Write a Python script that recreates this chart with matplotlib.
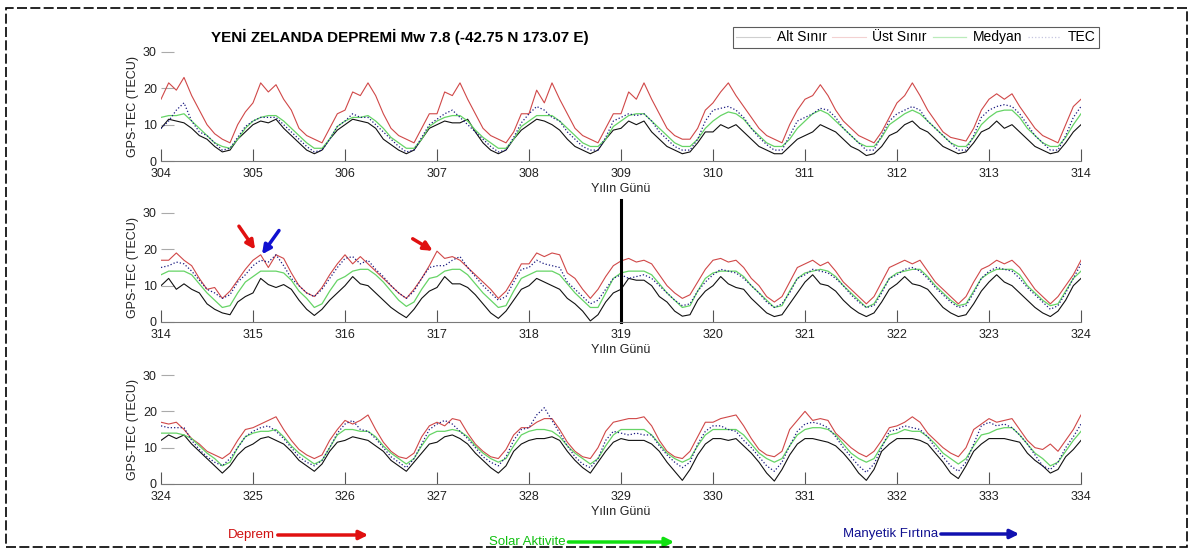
import numpy as np
import matplotlib
matplotlib.use("Agg")
import matplotlib.pyplot as plt
from matplotlib.lines import Line2D
from matplotlib.patches import Rectangle, FancyArrowPatch

plt.rcParams['font.family'] = ['Liberation Sans', 'DejaVu Sans']

# 2-hour samples, 12 per day, day 304.0 -> 334.0
first_day = 304
per_day = 12

alt_sinir = [
    9, 11.5, 11, 10.5, 9, 7, 6, 4, 2.5, 3, 6, 8,            # 304
    10, 11, 10.5, 11.5, 9, 7, 5, 3, 2, 3, 6, 8.5,           # 305
    10, 11.5, 11, 10.5, 9, 6, 4.5, 3, 2, 3, 6, 9,           # 306
    10, 11, 10.5, 10.5, 11.5, 8, 5, 3, 2, 3, 6, 8.5,        # 307
    10, 11.5, 11, 10, 8.5, 6, 4, 3, 2, 3, 6, 8.5,           # 308
    9, 11, 10, 11, 8, 6, 4, 3, 2, 2.5, 5, 8,                # 309
    8, 10, 9, 10, 8, 6, 4, 3, 2, 2, 4, 6,                   # 310
    7, 8, 10, 9, 8, 6, 4, 3, 1.5, 2, 4, 7,                  # 311
    8, 10, 11, 9, 8, 6, 4, 3, 2, 2.5, 5, 8,                 # 312
    9, 11, 9, 10, 8, 6, 4, 3, 2, 2.5, 5, 8,                 # 313
    10, 12, 9, 10.5, 9, 8, 5, 3.5, 2.5, 2, 5.5, 7,          # 314
    8, 12, 10.3, 9.5, 10.3, 9, 6, 3.5, 1.8, 3.5, 6, 8,      # 315
    10, 12.5, 10.5, 10, 8, 6, 4, 2.5, 1.2, 3.5, 6.5, 8.5,   # 316
    9.5, 12.5, 10.5, 10.5, 9.5, 7.5, 5, 2.5, 1, 3, 6, 9,    # 317
    10, 12, 11, 10, 9, 6.5, 5, 3, 0.3, 2, 5.5, 8,           # 318
    9, 12, 11.5, 11.5, 10, 7, 5.5, 3, 1.6, 2, 6, 8.5,       # 319
    10, 12.5, 10.5, 9.5, 9, 6.5, 4.5, 2.5, 1.5, 2, 5, 8,    # 320
    11, 13, 10.5, 10, 8.5, 6, 4, 2.5, 1.5, 2.5, 5.5, 9,     # 321
    10.5, 12.5, 10.5, 10, 9, 6.5, 4, 2.5, 1.5, 2, 5, 8.5,   # 322
    11, 13, 11, 10, 8, 6, 4, 2.5, 1.5, 3, 6, 10,            # 323
    12, 13.5, 12.5, 13.5, 11, 9, 7, 5, 3, 5, 8, 10,         # 324
    11, 12.5, 13, 12, 11, 9, 6.5, 5, 3.5, 5.5, 9, 11.5,     # 325
    12, 13, 12.5, 12, 10.5, 9, 6.5, 5, 3.5, 6, 8.5, 11,     # 326
    11.5, 13, 13.5, 12.5, 11, 8.5, 6.5, 4.5, 3, 5, 9, 11,   # 327
    12, 12.5, 12.5, 13, 12, 9, 6.5, 4.5, 3, 6, 9, 11.5,     # 328
    12.5, 12, 12, 12, 11, 9, 6, 3.5, 1, 4, 8, 11,           # 329
    12.5, 12.5, 12, 12.5, 10.5, 8.5, 6, 3, 0.8, 4, 8, 11,   # 330
    12.5, 12.5, 12, 11.5, 10.5, 8.5, 6, 3, 1, 4, 9, 11,     # 331
    12.5, 12.5, 12.5, 12, 11, 8.5, 6, 3, 1.5, 5, 9, 11,     # 332
    12.5, 12.5, 12.5, 12, 11.5, 8.5, 6.5, 5, 3, 4, 7.5, 9.5,  # 333
    12,
]

ust_sinir = [
    17, 21.5, 19.5, 23, 18, 14, 10, 7.5, 6, 5, 10, 13.5,    # 304
    16, 21.5, 19, 21, 17, 14, 9, 7, 6, 5, 9, 13,            # 305
    14, 19, 18, 21.5, 18, 13, 9, 7, 6, 5, 9, 13,            # 306
    13, 19, 18, 21.5, 17, 13, 9, 7, 6, 5, 8, 13,            # 307
    13, 19.5, 16, 21.5, 17, 13, 9, 7, 6, 5, 9, 13,          # 308
    13, 19, 17, 21.5, 17, 13, 9, 7, 6, 6, 9, 14,            # 309
    16, 19, 21.5, 18, 15, 12, 9, 7, 6, 5, 10, 14,           # 310
    17, 18, 21, 18, 14, 11, 9, 7, 6, 5, 8, 12,              # 311
    16, 18, 21.5, 18, 14, 11, 8, 6.5, 6, 5.5, 9, 14,        # 312
    17, 18.5, 17, 18.5, 15, 12, 9, 7, 6, 5, 10, 15,         # 313
    17, 17, 19, 17, 15.5, 12, 9, 9.5, 6.5, 8.5, 11.5, 14.5,  # 314
    17, 18.5, 15, 18.5, 17.5, 13.5, 10, 8, 7, 9.5, 13, 16,  # 315
    18.5, 16, 18, 16, 14, 12, 10, 8, 6.5, 9, 12, 15.5,      # 316
    19.5, 17.5, 18, 17, 15, 13, 11, 9, 6.5, 8.5, 12, 16,    # 317
    16, 19, 18, 19, 18.5, 13.5, 12, 9, 6.5, 9, 12.5, 15.5,  # 318
    16.8, 17.5, 16.5, 17, 16, 13, 10, 8, 6.5, 7.5, 11, 14.5,  # 319
    17, 17.5, 16.5, 17, 15, 12, 10, 7, 5.5, 7, 11, 15,      # 320
    16, 17, 15.5, 16.5, 14, 11, 9, 7, 5, 7, 11, 15,         # 321
    16, 17, 16, 17, 14, 11, 9, 7, 5, 7, 11, 14.5,           # 322
    15.5, 17, 16, 17, 15, 12, 9, 7, 5, 7, 10, 13,           # 323
    17, 16.5, 17, 15, 12.5, 11, 9, 8, 7, 8.5, 12, 15,       # 324
    15.5, 16.5, 17.5, 18.5, 15, 12, 9.5, 8, 7, 8, 12, 15,   # 325
    17.5, 16.5, 17.5, 19, 15, 11.5, 9, 7.5, 7, 8.5, 13, 16,  # 326
    17, 16, 18, 17.5, 14, 11, 9, 7.5, 7, 9.5, 13.5, 15.5,   # 327
    15.5, 17, 18, 18, 15, 11.5, 9, 7.5, 7, 10, 14.5, 17,    # 328
    17.5, 18, 18, 18.5, 16, 12, 9, 7.5, 7, 9, 13, 17,       # 329
    17, 18, 18.5, 19, 16, 12.5, 9.5, 8, 7.5, 9, 15, 17.5,   # 330
    20, 17.5, 18, 17.5, 14, 12, 10, 8.5, 7.5, 9, 12, 15.5,  # 331
    16, 17, 18.5, 17, 14, 12, 10, 8.5, 7.5, 10, 15, 16.5,   # 332
    18, 17, 17.5, 18, 15, 12, 10, 9.5, 11, 9, 12, 15,       # 333
    19,
]

medyan = [
    12, 12.5, 12.5, 13, 11, 9, 7, 5, 4, 3.5, 6, 9,          # 304
    11, 12, 12.5, 12.5, 11, 9, 7, 5, 3.5, 3.5, 6, 9.5,      # 305
    11, 12, 12, 12.5, 11, 9, 6.5, 5, 3.5, 3.5, 6, 9.5,      # 306
    11, 12, 12.5, 12.5, 11, 8.5, 6.5, 5, 3.5, 3.5, 6, 9.5,  # 307
    11, 12.5, 12.5, 12.5, 11, 9, 7, 5, 4, 4, 6, 9.5,        # 308
    11, 12.5, 13, 13, 11, 9, 7, 5, 4, 4, 6, 9,              # 309
    11, 12.5, 13.5, 13, 11.5, 9, 7, 5, 4, 4, 6, 9,          # 310
    11, 13, 14, 13, 11, 9, 7, 5, 4, 4, 6.5, 10,             # 311
    11.5, 13, 14, 13, 11, 9, 7, 5, 4, 4, 6.5, 10,           # 312
    12, 13.5, 14, 14, 12, 9, 7, 5, 4, 4, 6.5, 10,           # 313
    13, 14, 14, 14, 13, 10.5, 8, 6, 4, 4.5, 8, 11,          # 314
    12.5, 14, 14, 14, 13.5, 11.5, 8.5, 6.5, 4, 5, 8.5, 11.5,  # 315
    12.5, 14, 14.5, 14.5, 13, 11, 8.5, 6, 4.3, 5.5, 9, 12,  # 316
    12.5, 14, 14.5, 14.5, 13, 10.5, 8, 6, 4, 4.5, 8.5, 12,  # 317
    13, 14, 14, 14, 13, 10.5, 8, 6, 4, 4, 8, 12,            # 318
    13.5, 14, 14, 14, 13, 10.5, 8, 6, 4, 4.5, 8.5, 12,      # 319
    13.5, 14, 14, 14, 12.5, 10, 8, 6, 4, 4.5, 8.5, 12,      # 320
    13.5, 14, 14.5, 14, 12.5, 10, 8, 6, 4, 5, 8.5, 12,      # 321
    13.5, 14, 14.5, 14.5, 12.5, 10, 8, 6, 4.5, 5, 8.5, 12,  # 322
    13.5, 14.5, 14.5, 14.5, 13, 10, 8, 6, 4.5, 5, 8.5, 12,  # 323
    14, 14, 14, 13.5, 12.5, 10.5, 8.5, 7, 5, 6, 10, 13,     # 324
    14, 14.5, 14.5, 15, 13, 10.5, 8.5, 7, 5.5, 6.5, 10, 13.5,  # 325
    15, 15, 14.5, 14.5, 13, 10.5, 8.5, 7, 5.5, 7, 10.5, 13.5,  # 326
    14.5, 14.5, 15, 14.5, 13, 10.5, 8.5, 7, 6, 7, 10.5, 13.5,  # 327
    14.5, 15, 15, 14.5, 13, 10.5, 8.5, 7, 5.5, 7, 10.5, 13.5,  # 328
    15, 15, 15, 15, 13.5, 11, 8.5, 7, 6, 7, 10.5, 13.5,     # 329
    15, 15, 15, 15, 13.5, 11, 8.5, 7, 6, 7, 10.5, 13.5,     # 330
    15, 15.5, 15.5, 15, 13.5, 11, 8.5, 7, 6, 7, 10.5, 13.5,  # 331
    14, 15, 14.5, 14.5, 13, 11, 8.5, 7, 5.5, 7, 10.5, 13.5,  # 332
    14, 15, 15.5, 15.5, 13.5, 11, 8.5, 7, 5, 6, 9, 12,      # 333
    14.5,
]

tec = [
    9, 11, 14, 16, 11, 8, 7, 5, 3, 3.5, 6.5, 9.5,           # 304
    11, 12, 12, 12, 10, 8, 6, 4, 2.5, 3, 6, 9.5,            # 305
    11, 13, 12, 12, 10, 8, 6, 4, 2.5, 3, 6.5, 10,           # 306
    11.5, 13, 14, 12, 10, 8, 6, 4, 2.5, 3, 6.5, 10.5,       # 307
    13, 15, 14, 12, 11, 8, 6, 4, 3, 3, 6.5, 11,             # 308
    12, 13, 12.5, 13, 11, 8, 6, 4, 3, 3, 6, 11,             # 309
    14, 14.5, 15, 14, 12, 9, 6.5, 4.5, 3, 3, 7, 11,         # 310
    12, 13, 14.5, 14, 12, 9, 7, 5, 3, 3, 7, 11,             # 311
    13, 14, 15, 14, 11, 9, 7, 5, 3, 3, 7, 12,               # 312
    14, 15, 15.5, 15, 13, 10, 7, 5, 3, 3, 7, 12,            # 313
    15, 15.5, 16.5, 16, 14, 11.5, 9, 8, 6.5, 7.5, 11, 13,   # 314
    15.5, 17, 16.5, 18.5, 15.5, 12, 10, 8, 7, 9, 12, 15,    # 315
    17.5, 18, 16, 17, 14.5, 12.5, 10, 8, 6.5, 8.5, 12, 15,  # 316
    15.5, 15.5, 17, 18, 15, 12.5, 10, 8, 6, 7, 11, 14.5,    # 317
    15, 17, 16, 15.5, 15, 11, 9, 7, 5, 6, 9, 12,            # 318
    13, 12, 12.5, 13, 12, 10, 8, 6, 4.5, 5, 8.5, 11,        # 319
    13, 14.5, 14, 13.5, 12, 10, 8, 5.5, 4, 5, 8, 12,        # 320
    13, 14.5, 14, 13.5, 12, 10, 7.5, 5.5, 4, 4.5, 8, 12,    # 321
    13, 14.5, 15, 14, 12, 9.5, 7.5, 5.5, 4, 4.5, 8, 12,     # 322
    14, 15, 14.5, 14, 12, 9.5, 7.5, 5.5, 3.5, 4.5, 8, 12,   # 323
    16, 15.5, 15.5, 15.5, 12, 9.5, 7.5, 6, 5, 7, 10, 13,    # 324
    14.5, 15.5, 16, 14.5, 12.5, 10, 7.5, 6, 5, 6.5, 10, 14,  # 325
    16.5, 17.5, 15, 14.5, 12.5, 10, 7.5, 6, 4.5, 7, 11, 15,  # 326
    16.5, 17.5, 16.5, 14.5, 12.5, 10, 7.5, 6, 5, 7.5, 12, 15,  # 327
    15.5, 19, 21, 17.5, 14, 10.5, 7.5, 5.5, 4.5, 7, 12, 14.5,  # 328
    14, 13.5, 14, 13.5, 13.5, 10.5, 8, 6, 4.5, 6, 11, 14.5,  # 329
    16, 16, 15, 14.5, 12, 10, 7.5, 5, 3.5, 6, 10.5, 14.5,   # 330
    16.5, 17, 16.5, 15.5, 13, 10, 7.5, 5, 3.2, 5.5, 10, 14.5,  # 331
    15, 16, 15.5, 15, 13, 10, 7.5, 5, 3.5, 6, 11, 16,       # 332
    17, 16, 16.5, 15.5, 13.5, 11, 8, 5, 4, 6, 10, 13,       # 333
    16.5,
]

panel_starts = [304, 314, 324]
event_day = 319

days = first_day + np.arange(len(tec)) / per_day

W, H = 1191, 550
fig = plt.figure(figsize=(W / 100, H / 100), dpi=100)
left, width, height = 161 / W, 920 / W, 109 / H
bottoms = [1 - 161 / H, 1 - 322 / H, 1 - 484 / H]

red = '#d04848'
green = '#66d466'
blue = '#1a1a80'

axes = []
for i, start in enumerate(panel_starts):
    ax = fig.add_axes([left, bottoms[i], width, height])
    s = (start - first_day) * per_day
    e = s + 10 * per_day + 1
    ax.plot(days[s:e], alt_sinir[s:e], color='#111111', lw=0.8)
    ax.plot(days[s:e], ust_sinir[s:e], color=red, lw=0.8)
    ax.plot(days[s:e], medyan[s:e], color=green, lw=0.9)
    ax.plot(days[s:e], tec[s:e], color=blue, lw=0.9, ls=':')
    ax.set_xlim(start, start + 10)
    ax.set_ylim(0, 30)
    ax.set_xticks(range(start, start + 11))
    ax.set_yticks([0, 10, 20, 30])
    for sp in ['top', 'right', 'left']:
        ax.spines[sp].set_visible(False)
    ax.spines['bottom'].set_color('#7a7a7a')
    ax.tick_params(axis='x', direction='in', length=9, width=0.8, color='#555555',
                   labelsize=9, pad=5, labelcolor='#222222')
    ax.tick_params(axis='y', direction='in', length=9, width=0.8, color='#aaaaaa',
                   labelsize=9, pad=3, labelcolor='#222222')
    ax.set_xlabel('Yılın Günü', fontsize=9, color='#222222')
    ax.xaxis.set_label_coords(0.5, -0.2)
    ax.set_ylabel('GPS-TEC (TECU)', fontsize=9, color='#222222')
    ax.yaxis.set_label_coords(-0.024, 0.5)
    axes.append(ax)

# earthquake marker
axes[1].plot([event_day, event_day], [0, 33.6], color='black', lw=2.2, clip_on=False)

# arrows on panel 2
axes[1].annotate('', xy=(315.04, 19.3), xytext=(314.83, 27),
                 arrowprops=dict(arrowstyle='-|>', color='#e01010', lw=2.5, mutation_scale=13))
axes[1].annotate('', xy=(315.08, 18), xytext=(315.30, 25.8),
                 arrowprops=dict(arrowstyle='-|>', color='#1010d0', lw=2.5, mutation_scale=13))
axes[1].annotate('', xy=(316.98, 19.2), xytext=(316.71, 23.3),
                 arrowprops=dict(arrowstyle='-|>', color='#e01010', lw=2.5, mutation_scale=13))

fig.text(400 / W, 1 - 37 / H, 'YENİ ZELANDA DEPREMİ Mw 7.8 (-42.75 N 173.07 E)',
         ha='center', va='center', fontsize=11, fontweight='bold')

handles = [
    Line2D([], [], color='#111111', lw=0.8, alpha=0.2),
    Line2D([], [], color=red, lw=0.8, alpha=0.25),
    Line2D([], [], color=green, lw=0.9, alpha=0.45),
    Line2D([], [], color=blue, lw=0.9, ls=':', alpha=0.25),
]
leg = fig.legend(handles, ['Alt Sınır', 'Üst Sınır', 'Medyan', 'TEC'], ncol=4,
                 loc='upper left', bbox_to_anchor=(733 / W, 1 - 27 / H),
                 fontsize=10, frameon=True, fancybox=False, handlelength=2.4,
                 columnspacing=0.4, handletextpad=0.5, borderpad=0.25, borderaxespad=0)
leg.get_frame().set_edgecolor('#333333')
leg.get_frame().set_linewidth(0.8)

# bottom key: label followed by an arrow that starts where the text ends
key_items = [
    ('Deprem', 228, 535, 371, '#d01010', '#e01010'),
    ('Solar Aktivite', 489, 542, 677, '#10c010', '#10e010'),
    ('Manyetik Fırtına', 843, 534, 1022, '#101090', '#1010b0'),
]
key_texts = []
for label, x0, y0, x1, tcol, acol in key_items:
    key_texts.append(fig.text(x0 / W, 1 - y0 / H, label, color=tcol, fontsize=9.5,
                              va='center'))
fig.canvas.draw()
renderer = fig.canvas.get_renderer()
for t, (label, x0, y0, x1, tcol, acol) in zip(key_texts, key_items):
    bb = t.get_window_extent(renderer)
    fig.add_artist(FancyArrowPatch((bb.x1 / W, 1 - y0 / H), (x1 / W, 1 - y0 / H),
                   transform=fig.transFigure, arrowstyle='-|>', color=acol, lw=2.5,
                   mutation_scale=13))

# dashed border around the figure
fig.add_artist(Rectangle((6 / W, 3 / H), 1181 / W, 539 / H, transform=fig.transFigure,
                         fill=False, edgecolor='black', lw=1.2, ls=(0, (6, 2))))

fig.savefig('out.png', dpi=100)
